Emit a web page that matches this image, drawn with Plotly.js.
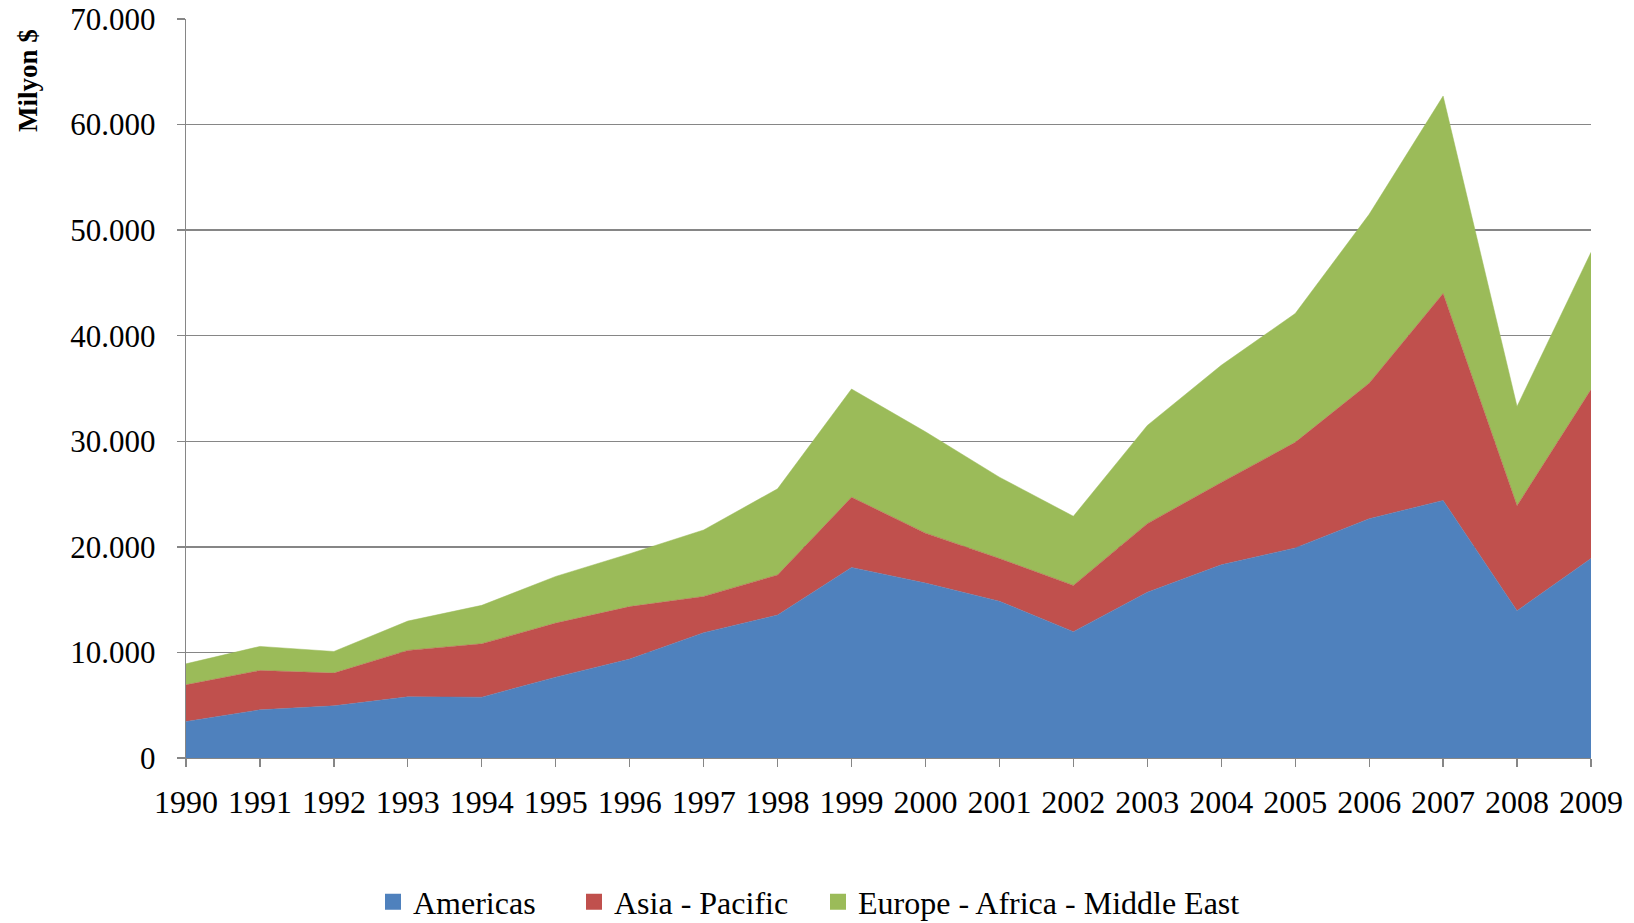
<!DOCTYPE html>
<html>
<head>
<meta charset="utf-8">
<script src="https://cdn.plot.ly/plotly-3.0.1.min.js"></script>
<style>html,body{margin:0;padding:0;background:#fff;}#chart{width:1634px;height:923px;}</style>
</head>
<body>
<div id="chart"></div>
<script>
const years = [1990,1991,1992,1993,1994,1995,1996,1997,1998,1999,2000,2001,2002,2003,2004,2005,2006,2007,2008,2009];
const americas = [3450,4560,4940,5790,5760,7660,9370,11870,13540,18050,16570,14850,11970,15700,18300,19900,22660,24400,13950,18900];
const asiaPacific = [3480,3730,3100,4400,5060,5120,4970,3430,3800,6650,4730,4050,4380,6500,7800,10000,12840,19600,9950,16000];
const europeAfricaME = [1990,2280,2050,2780,3640,4420,5010,6300,8160,10250,9600,7700,6550,9300,11100,12200,16000,18700,9400,13000];
const seriesNames = ['Americas','Asia - Pacific','Europe - Africa - Middle East'];
const colors = ['#4F81BD','#C0504D','#9BBB59'];
const yTitle = 'Milyon $';

const font = 'Liberation Serif, DejaVu Serif, serif';
const series = [americas, asiaPacific, europeAfricaME];
const legendWidths = [156, 199, 0];

const areaTraces = series.map((vals, i) => ({
  type: 'scatter', mode: 'lines', x: years, y: vals, name: seriesNames[i],
  stackgroup: 'one', fillcolor: colors[i], showlegend: false, legendgroup: 'g' + i,
  line: {color: colors[i], width: 0.5}
}));
// legend-only entries with square swatches (no data drawn)
const legendTraces = series.map((vals, i) => {
  const t = {
    type: 'scatter', mode: 'markers', x: [null], y: [null], name: seriesNames[i],
    legendgroup: 'g' + i, showlegend: true,
    marker: {symbol: 'square', size: 16, color: colors[i], line: {width: 0}}
  };
  if (legendWidths[i]) t.legendwidth = legendWidths[i];
  return t;
});

const layout = {
  width: 1634, height: 923,
  margin: {l: 186, r: 43, t: 19, b: 165},
  paper_bgcolor: '#fff', plot_bgcolor: '#fff',
  separators: ',.',
  font: {family: font, size: 30, color: '#000'},
  showlegend: true,
  legend: {orientation: 'h', xref: 'container', yref: 'container', x: 373 / 1634, xanchor: 'left', y: 1 - 902 / 923, yanchor: 'middle',
    traceorder: 'normal', font: {family: font, size: 32, color: '#000'}, itemwidth: 30},
  xaxis: {range: [1990, 2009], tickmode: 'array', tickvals: years, ticktext: years.map(String),
    showgrid: false, zeroline: false, showline: true, linecolor: '#868686', linewidth: 1.3,
    ticks: 'outside', ticklen: 8, tickcolor: '#868686', tickwidth: 1.3, ticklabelstandoff: 7,
    tickfont: {family: font, size: 32, color: '#000'}},
  yaxis: {range: [0, 70000], dtick: 10000, tickformat: ',d', showgrid: true, gridcolor: '#868686', gridwidth: 1.3,
    zeroline: false, showline: true, linecolor: '#868686', linewidth: 1.3,
    ticks: 'outside', ticklen: 8, tickcolor: '#868686', tickwidth: 1.3, ticklabelstandoff: 15,
    tickfont: {family: font, size: 31, color: '#000'}},
  annotations: [{text: '<b>' + yTitle + '</b>', xref: 'paper', yref: 'paper', x: 0, y: 1, xshift: -158, yshift: -62,
    textangle: -90, showarrow: false, font: {family: font, size: 27, color: '#000'}, xanchor: 'center', yanchor: 'middle'}]
};

Plotly.newPlot('chart', areaTraces.concat(legendTraces), layout, {displayModeBar: false, staticPlot: true});
</script>
</body>
</html>
